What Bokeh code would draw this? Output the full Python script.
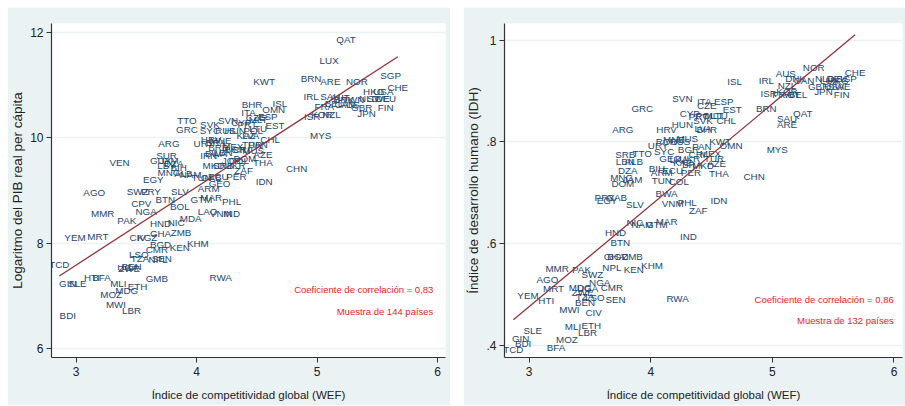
import numpy as np
from bokeh.plotting import figure
from bokeh.layouts import row, column, Spacer
from bokeh.models import ColumnDataSource, FixedTicker, CustomJSTickFormatter, Label
from bokeh.core.properties import value
from bokeh.embed import file_html
from bokeh.resources import INLINE

# ---- Panel 1: GCI vs log real GDP per capita (144 countries) ----
gdp_codes = [
    "QAT", "LUX", "KWT", "BRN", "ARE", "NOR", "SGP", "CHE", "IRL", "SAU",
    "AUT", "FRA", "BEL", "DNK", "CAN", "TWN", "AUS", "NLD", "HKG", "USA",
    "SWE", "DEU", "GBR", "FIN", "JPN", "ISR", "KOR", "NZL", "ISL", "OMN",
    "BHR", "ITA", "CZE", "ESP", "EST", "MLT", "TTO", "GRC", "SVK", "SVN",
    "CYP", "PRT", "SYC", "RUS", "HUN", "POL", "KAZ", "LVA", "LTU", "CHL",
    "MYS", "ARG", "URY", "HRV", "BRA", "MEX", "TUR", "PAN", "CRI", "BGR",
    "MNE", "BRB", "LBN", "IRN", "BWA", "MUS", "AZE", "THA", "DOM", "COL",
    "PER", "MKD", "SRB", "JOR", "UKR", "ZAF", "IDN", "CHN", "VEN", "SUR",
    "GUY", "JAM", "LBY", "DZA", "BIH", "ECU", "MNG", "ALB", "NAM", "TUN",
    "GAB", "SLV", "GEO", "ARM", "BTN", "GTM", "MAR", "PHL", "EGY", "PRY",
    "SWZ", "AGO", "BOL", "CPV", "NGA", "MMR", "PAK", "LAO", "VNM", "IND",
    "MDA", "HND", "NIC", "GHA", "ZMB", "KHM", "KEN", "BGD", "CMR", "KGZ",
    "CIV", "YEM", "MRT", "LSO", "TZA", "NPL", "SEN", "UGA", "ZWE", "BEN",
    "GMB", "RWA", "TCD", "HTI", "BFA", "GIN", "SLE", "MLI", "ETH", "MDG",
    "MOZ", "MWI", "LBR", "BDI",
]
gdp_gci = [
    5.24, 5.10, 4.56, 4.95, 5.11, 5.33, 5.61, 5.67, 4.95, 5.11,
    5.19, 5.06, 5.14, 5.22, 5.23, 5.30, 5.27, 5.43, 5.47, 5.55,
    5.51, 5.57, 5.37, 5.57, 5.41, 4.96, 5.04, 5.12, 4.69, 4.64,
    4.46, 4.43, 4.49, 4.59, 4.65, 4.51, 3.92, 3.92, 4.11, 4.26,
    4.37, 4.42, 4.11, 4.24, 4.32, 4.47, 4.41, 4.45, 4.51, 4.61,
    5.03, 3.77, 4.06, 4.12, 4.16, 4.30, 4.46, 4.51, 4.37, 4.32,
    4.20, 4.18, 4.22, 4.10, 4.16, 4.47, 4.55, 4.55, 4.40, 4.35,
    4.33, 4.14, 4.22, 4.29, 4.32, 4.39, 4.56, 4.83, 3.36, 3.75,
    3.70, 3.77, 3.75, 3.81, 3.85, 4.18, 3.77, 3.89, 3.95, 4.04,
    4.12, 3.86, 4.19, 4.10, 3.74, 4.04, 4.12, 4.29, 3.64, 3.62,
    3.51, 3.15, 3.86, 3.54, 3.58, 3.22, 3.42, 4.09, 4.20, 4.29,
    3.95, 3.70, 3.83, 3.70, 3.87, 4.01, 3.86, 3.70, 3.67, 3.59,
    3.51, 2.99, 3.18, 3.52, 3.53, 3.68, 3.71, 3.43, 3.44, 3.46,
    3.67, 4.20, 2.86, 3.13, 3.21, 2.93, 3.01, 3.35, 3.51, 3.42,
    3.29, 3.33, 3.46, 2.93,
]
gdp_log = [
    11.87, 11.46, 11.06, 11.13, 11.06, 11.06, 11.19, 10.96, 10.79, 10.79,
    10.77, 10.60, 10.66, 10.72, 10.64, 10.72, 10.64, 10.75, 10.87, 10.87,
    10.75, 10.75, 10.58, 10.58, 10.47, 10.41, 10.45, 10.45, 10.66, 10.54,
    10.64, 10.49, 10.39, 10.41, 10.24, 10.35, 10.33, 10.16, 10.26, 10.33,
    10.30, 10.26, 10.14, 10.13, 10.13, 10.14, 10.05, 10.05, 10.18, 9.97,
    10.05, 9.90, 9.90, 9.97, 9.92, 9.84, 9.88, 9.88, 9.78, 9.78,
    9.95, 9.82, 9.73, 9.67, 9.71, 9.76, 9.69, 9.54, 9.61, 9.56,
    9.27, 9.48, 9.48, 9.56, 9.48, 9.38, 9.17, 9.42, 9.54, 9.67,
    9.56, 9.56, 9.48, 9.52, 9.44, 9.27, 9.35, 9.33, 9.31, 9.25,
    9.25, 8.98, 9.14, 9.04, 8.83, 8.83, 8.87, 8.79, 9.21, 8.98,
    8.98, 8.97, 8.70, 8.76, 8.60, 8.57, 8.43, 8.60, 8.57, 8.57,
    8.47, 8.38, 8.40, 8.19, 8.21, 8.00, 7.92, 7.98, 7.88, 8.11,
    8.11, 8.11, 8.13, 7.79, 7.71, 7.69, 7.71, 7.54, 7.52, 7.56,
    7.33, 7.35, 7.60, 7.35, 7.35, 7.24, 7.24, 7.24, 7.18, 7.10,
    7.03, 6.84, 6.72, 6.63,
]

# ---- Panel 2: GCI vs Human Development Index (132 countries) ----
hdi_codes = [
    "NOR", "CHE", "AUS", "DNK", "CAN", "NZL", "IRL", "ISL", "ISR", "FRA",
    "AUT", "BEL", "KOR", "NLD", "DEU", "SGP", "GBR", "JPN", "USA", "SWE",
    "HKG", "FIN", "LUX", "SVN", "ITA", "ESP", "CZE", "EST", "GRC", "BRN",
    "QAT", "SAU", "ARE", "CYP", "PRT", "POL", "MLT", "LTU", "CHL", "HUN",
    "SVK", "LVA", "BHR", "ARG", "HRV", "ROU", "MNE", "MUS", "RUS", "URY",
    "SYC", "BGR", "PAN", "CRI", "KWT", "OMN", "MYS", "MEX", "TUR", "SRB",
    "TTO", "LBN", "ALB", "GEO", "LKA", "UKR", "KAZ", "BRA", "AZE", "MKD",
    "BIH", "ARM", "ECU", "PER", "JAM", "DOM", "DZA", "MNG", "TUN", "COL",
    "THA", "CHN", "BWA", "PRY", "GAB", "EGY", "SLV", "VNM", "PHL", "IDN",
    "ZAF", "NIC", "NAM", "GTM", "MAR", "HND", "IND", "BTN", "GHA", "BGD",
    "ZMB", "KHM", "KEN", "NPL", "MMR", "PAK", "SWZ", "AGO", "NGA", "MRT",
    "CMR", "HTI", "YEM", "MDG", "UGA", "ZWE", "TZA", "LSO", "BEN", "SEN",
    "RWA", "MWI", "CIV", "SLE", "MLI", "ETH", "LBR", "MOZ", "GIN", "BDI",
    "TCD", "BFA",
]
hdi_gci = [
    5.34, 5.68, 5.11, 5.19, 5.26, 5.12, 4.95, 4.69, 4.97, 5.08,
    5.15, 5.21, 5.12, 5.43, 5.53, 5.61, 5.38, 5.42, 5.51, 5.55,
    5.54, 5.57, 5.47, 4.26, 4.44, 4.60, 4.46, 4.67, 3.93, 4.95,
    5.25, 5.12, 5.12, 4.32, 4.39, 4.45, 4.52, 4.56, 4.62, 4.26,
    4.43, 4.43, 4.46, 3.77, 4.13, 4.13, 4.19, 4.30, 4.24, 4.06,
    4.11, 4.31, 4.42, 4.38, 4.57, 4.66, 5.04, 4.49, 4.52, 3.79,
    3.93, 3.79, 3.86, 4.16, 4.23, 4.32, 4.26, 4.34, 4.54, 4.43,
    4.05, 4.09, 4.18, 4.33, 3.85, 3.77, 3.81, 3.76, 4.09, 4.23,
    4.56, 4.85, 4.13, 3.62, 3.72, 3.64, 3.87, 4.18, 4.30, 4.56,
    4.39, 3.87, 3.93, 4.05, 4.13, 3.71, 4.31, 3.75, 3.70, 3.73,
    3.85, 4.01, 3.86, 3.68, 3.23, 3.43, 3.52, 3.15, 3.58, 3.20,
    3.68, 3.14, 2.99, 3.42, 3.48, 3.44, 3.46, 3.54, 3.46, 3.71,
    4.22, 3.33, 3.53, 3.03, 3.36, 3.51, 3.48, 3.31, 2.93, 2.95,
    2.87, 3.22,
]
hdi_val = [
    0.947, 0.937, 0.934, 0.925, 0.920, 0.912, 0.920, 0.918, 0.896, 0.894,
    0.894, 0.894, 0.900, 0.924, 0.925, 0.924, 0.910, 0.900, 0.910, 0.910,
    0.920, 0.894, 0.920, 0.886, 0.880, 0.880, 0.871, 0.863, 0.865, 0.865,
    0.855, 0.847, 0.835, 0.855, 0.851, 0.853, 0.853, 0.853, 0.843, 0.835,
    0.843, 0.827, 0.824, 0.825, 0.824, 0.800, 0.804, 0.806, 0.800, 0.794,
    0.782, 0.786, 0.792, 0.776, 0.800, 0.794, 0.786, 0.778, 0.767, 0.776,
    0.778, 0.761, 0.761, 0.767, 0.765, 0.767, 0.759, 0.755, 0.757, 0.753,
    0.747, 0.739, 0.743, 0.739, 0.727, 0.718, 0.743, 0.731, 0.724, 0.722,
    0.737, 0.733, 0.698, 0.690, 0.690, 0.684, 0.676, 0.678, 0.680, 0.684,
    0.665, 0.641, 0.637, 0.637, 0.643, 0.622, 0.614, 0.602, 0.575, 0.575,
    0.575, 0.557, 0.549, 0.553, 0.551, 0.549, 0.539, 0.529, 0.524, 0.512,
    0.514, 0.488, 0.498, 0.514, 0.512, 0.504, 0.496, 0.494, 0.484, 0.490,
    0.492, 0.471, 0.465, 0.429, 0.437, 0.439, 0.425, 0.412, 0.414, 0.404,
    0.392, 0.396,
]

x_title = "Índice de competitividad global (WEF)"
gdp_title = "Logaritmo del PIB real per cápita"
hdi_title = "Índice de desarrollo humano (IDH)"
gdp_notes = ["Coeficiente de correlación = 0,83", "Muestra de 144 países"]
hdi_notes = ["Coeficiente de correlación = 0,86", "Muestra de 132 países"]

BG = "#EAF2F3"
NAVY = "#1a476f"
MAROON = "#90353b"
FONT = "Liberation Sans"


def panel(codes, xs, ys, ytitle, x_range, y_range, yticks, yfmt, notes,
          note_pos, width, height, b_left, b_right, b_top):
    p = figure(width=width, height=height, x_range=x_range, y_range=y_range,
               output_backend="svg", toolbar_location=None,
               min_border_left=b_left, min_border_right=b_right,
               min_border_top=b_top, min_border_bottom=48)
    p.background_fill_color = "white"
    p.border_fill_color = BG
    p.outline_line_color = None

    p.xgrid.visible = False
    p.ygrid.grid_line_color = BG
    p.ygrid.grid_line_width = 1.5
    p.ygrid.ticker = FixedTicker(ticks=yticks)

    for ax in (p.xaxis[0], p.yaxis[0]):
        ax.axis_line_color = "#333333"
        ax.axis_line_width = 1.2
        ax.major_tick_line_color = "#333333"
        ax.major_tick_out = 5
        ax.major_tick_in = 0
        ax.minor_tick_line_color = None
        ax.major_label_text_font = FONT
        ax.major_label_text_font_size = "12px"
        ax.major_label_text_color = "#222222"
        ax.axis_label_text_font = FONT
        ax.axis_label_text_font_style = "normal"
        ax.axis_label_text_color = "#222222"

    p.xaxis.ticker = FixedTicker(ticks=[3, 4, 5, 6])
    p.xaxis.major_label_standoff = 4
    p.xaxis.axis_label = x_title
    p.xaxis.axis_label_text_font_size = "11.5px"
    p.xaxis.axis_label_standoff = 10

    p.yaxis.ticker = FixedTicker(ticks=yticks)
    p.yaxis.formatter = yfmt
    p.yaxis.major_label_orientation = "horizontal"
    p.yaxis.major_label_standoff = 3
    p.yaxis.axis_label = ytitle
    p.yaxis.axis_label_text_font_size = "13.5px"
    p.yaxis.axis_label_standoff = 2

    src = ColumnDataSource(dict(x=xs, y=ys, code=codes))
    p.text(x="x", y="y", text="code", source=src,
           text_align="center", text_baseline="middle",
           text_color=NAVY, text_font=value(FONT), text_font_size="9.8px")

    # least-squares fit across the observed range of the index
    xa = np.asarray(xs, dtype=float)
    ya = np.asarray(ys, dtype=float)
    slope, intercept = np.polyfit(xa, ya, 1)
    fx = np.array([xa.min(), xa.max()])
    p.line(fx, intercept + slope * fx, line_color=MAROON, line_width=1.3)

    nx, ny1, ny2 = note_pos
    for txt, ny in zip(notes, (ny1, ny2)):
        p.add_layout(Label(x=nx, y=ny, text=txt, text_align="right",
                           text_baseline="middle", text_color="#ee1c25",
                           text_font=FONT, text_font_size="9.5px"))
    return p


plain_fmt = CustomJSTickFormatter(code="return tick.toFixed(0);")
hdi_fmt = CustomJSTickFormatter(
    code="return tick >= 1 ? tick.toFixed(0) : tick.toFixed(1).replace(/^0/, '');")

p1 = panel(gdp_codes, gdp_gci, gdp_log, gdp_title, (2.795, 6.066), (5.83, 12.17),
           [6, 8, 10, 12], plain_fmt, gdp_notes, (5.965, 7.12, 6.70),
           443, 398, 39, 5, 16)
p2 = panel(hdi_codes, hdi_gci, hdi_val, hdi_title, (2.797, 6.07), (0.376, 1.033),
           [0.4, 0.6, 0.8, 1.0], hdi_fmt, hdi_notes, (5.998, 0.490, 0.449),
           442, 398, 35, 3, 15)

layout = column(Spacer(height=7),
                row(Spacer(width=7), p1, Spacer(width=13), p2))

open("out.html", "w").write(file_html(layout, INLINE))
